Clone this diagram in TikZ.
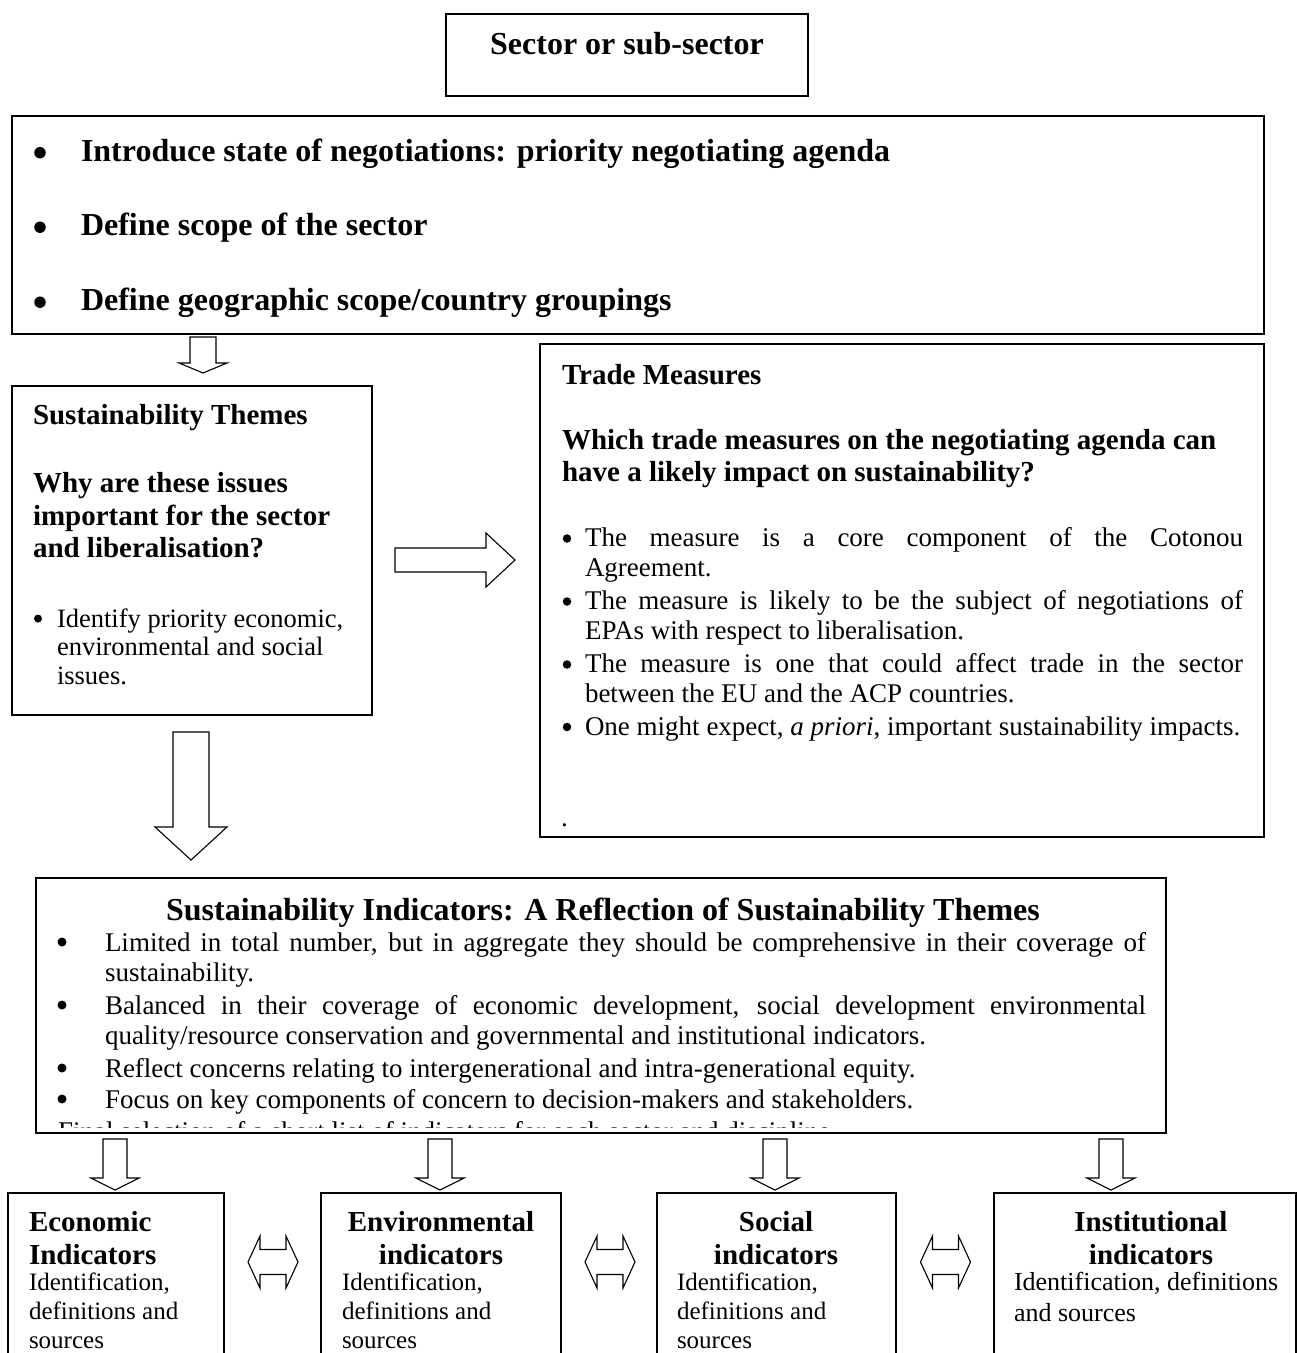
\documentclass[tikz,border=0pt]{standalone}
\usepackage{fontspec}
\setmainfont{Liberation Serif}
\newcommand\myfTop{\fontsize{32}{35}\selectfont\bfseries}
\newcommand\myfHead{\fontsize{29}{32.5}\selectfont\bfseries}
\newcommand\myfBody{\fontsize{27}{29.5}\selectfont}
\newcommand\myfST{\fontsize{26.5}{28.5}\selectfont}
\newcommand\myfSI{\fontsize{27}{30}\selectfont}
\newcommand\myfBot{\fontsize{25}{29}\selectfont}
\newcommand\myfBotI{\fontsize{26}{31}\selectfont}
\newcommand\myfBotB{\fontsize{29}{33}\selectfont\bfseries}
\tikzset{
  box/.style={draw, line width=1.3pt, inner sep=0pt, outer sep=0pt, rectangle, anchor=north west},
  blk/.style={draw, line width=1.1pt, fill=white, line join=miter},
  txt/.style={inner sep=0pt, outer sep=0pt, anchor=base west},
  ctxt/.style={inner sep=0pt, outer sep=0pt, anchor=base},
  dot/.style={circle, fill=black, inner sep=0pt, outer sep=0pt, minimum size=#1},
  dot/.default=9pt,
}
% down block arrow: cx, top, shaft bottom, tip, half shaft, half head
\newcommand\mydownarrow[6]{%
  \draw[blk] ({#1-#5},#2) -- ({#1+#5},#2) -- ({#1+#5},#3) -- ({#1+#6},#3) -- (#1,#4)
    -- ({#1-#6},#3) -- ({#1-#5},#3) -- cycle;}
% double block arrow: cx, cy
\newcommand\mydblarrow[2]{%
  \draw[blk] ({#1-25},#2) -- ({#1-13},{#2-26}) -- ({#1-13},{#2-12.5}) -- ({#1+13},{#2-12.5})
    -- ({#1+13},{#2-26}) -- ({#1+25},#2) -- ({#1+13},{#2+26}) -- ({#1+13},{#2+12.5})
    -- ({#1-13},{#2+12.5}) -- ({#1-13},{#2+26}) -- cycle;}
\begin{document}
\begin{tikzpicture}[x=1pt,y=-1pt]
\useasboundingbox (0,0) rectangle (1297,1353);
\clip (0,0) rectangle (1297,1353);

% ---------- Sector box
\node[box, minimum width=362pt, minimum height=82pt] (sector) at (446,14) {};
\node[ctxt, font=\myfTop] (sectortxt) at (627,54) {Sector or sub-sector};

% ---------- Scope box
\node[box, minimum width=1252pt, minimum height=218pt] (scope) at (12,116) {};
\node[dot=11.5pt] (sb1) at (40,152.7) {};
\node[txt, font=\myfTop] (st1) at (81,161) {Introduce state of negotiations: priority negotiating agenda};
\node[dot=11.5pt] (sb2) at (40,227.2) {};
\node[txt, font=\myfTop] (st2) at (81,235.5) {Define scope of the sector};
\node[dot=11.5pt] (sb3) at (40,302.2) {};
\node[txt, font=\myfTop] (st3) at (81,310.5) {Define geographic scope/country groupings};

% ---------- Sustainability themes box
\node[box, minimum width=360pt, minimum height=329pt] (themes) at (12,386) {};
\node[txt, font=\myfHead] (themesT) at (33,424) {Sustainability Themes};
\node[txt] (themesQ) at (33,492.5) {\parbox[t]{335pt}{\myfHead\raggedright Why are these issues\\important for the sector\\and liberalisation?}};
\node[dot=8pt] (themesB) at (38,618.6) {};
\node[txt] (themesI) at (57,627) {\parbox[t]{310pt}{\myfST\raggedright Identify priority economic,\\environmental and social\\issues.}};

% ---------- Trade measures box
\node[box, minimum width=724pt, minimum height=493pt] (trade) at (540,344) {};
\node[txt, font=\myfHead] (tradeT) at (562,384) {Trade Measures};
\node[txt] (tradeQ) at (562,449) {\parbox[t]{690pt}{\myfHead\raggedright Which trade measures on the negotiating agenda can\\have a likely impact on sustainability?}};
\node[dot=8.5pt] (tb1) at (567,538.5) {};
\node[txt] (ti1) at (585,546.5) {\parbox[t]{658pt}{\myfBody The measure is a core component of the Cotonou\linebreak Agreement.}};
\node[dot=8.5pt] (tb2) at (567,601.5) {};
\node[txt] (ti2) at (585,609.5) {\parbox[t]{658pt}{\myfBody The measure is likely to be the subject of negotiations of\linebreak EPAs with respect to liberalisation.}};
\node[dot=8.5pt] (tb3) at (567,664.5) {};
\node[txt] (ti3) at (585,672.5) {\parbox[t]{658pt}{\myfBody The measure is one that could affect trade in the sector\linebreak between the EU and the ACP countries.}};
\node[dot=8.5pt] (tb4) at (567,727) {};
\node[txt] (ti4) at (585,735) {\parbox[t]{658pt}{\myfBody One might expect, \textit{a priori}, important sustainability impacts.}};
\node[txt, font=\myfBody] (tdot) at (561,826) {.};

% ---------- Sustainability indicators box
\node[box, minimum width=1130pt, minimum height=255pt] (indic) at (36,878) {};
\node[ctxt, font=\myfTop] (indicT) at (603,920) {Sustainability Indicators: A Reflection of Sustainability Themes};
\node[dot=9pt] (ib1) at (62,942) {};
\node[txt] (ii1) at (105,951) {\parbox[t]{1041pt}{\myfSI Limited in total number, but in aggregate they should be comprehensive in their coverage of\linebreak sustainability.}};
\node[dot=9pt] (ib2) at (62,1005) {};
\node[txt] (ii2) at (105,1014) {\parbox[t]{1041pt}{\myfSI Balanced in their coverage of economic development, social development environmental\linebreak quality/resource conservation and governmental and institutional indicators.}};
\node[dot=9pt] (ib3) at (62,1068) {};
\node[txt, font=\myfSI] (ii3) at (105,1077) {Reflect concerns relating to intergenerational and intra-generational equity.};
\node[dot=9pt] (ib4) at (62,1099) {};
\node[txt, font=\myfSI] (ii4) at (105,1108) {Focus on key components of concern to decision-makers and stakeholders.};
\begin{scope}
  \clip (37,879) rectangle (1165,1127);
  \node[txt, font=\myfSI] (ii5) at (58,1140) {Final selection of a short list of indicators for each sector and discipline};
\end{scope}

% ---------- Block arrows
\mydownarrow{203}{337}{363}{373}{13}{24}
\draw[blk] (395,548) -- (486,548) -- (486,533) -- (515,560) -- (486,587) -- (486,572) -- (395,572) -- cycle;
\mydownarrow{191}{732}{827}{860}{18}{36}
\mydownarrow{115}{1139}{1178}{1190}{12}{24}
\mydownarrow{440}{1139}{1178}{1190}{12}{24}
\mydownarrow{775}{1139}{1178}{1190}{12}{24}
\mydownarrow{1111}{1139}{1178}{1190}{12}{24}

% ---------- Bottom boxes
\node[box, minimum width=216pt, minimum height=200pt] (econ) at (8,1193) {};
\node[box, minimum width=240pt, minimum height=200pt] (env) at (321,1193) {};
\node[box, minimum width=239pt, minimum height=200pt] (soc) at (657,1193) {};
\node[box, minimum width=302pt, minimum height=200pt] (inst) at (994,1193) {};

\mydblarrow{273}{1262}
\mydblarrow{610}{1262}
\mydblarrow{945.5}{1262}

\node[txt, font=\myfBotB] (econT1) at (29,1231) {Economic};
\node[txt, font=\myfBotB] (econT2) at (29,1264) {Indicators};
\node[txt, font=\myfBot] (econR1) at (29,1290) {Identification,};
\node[txt, font=\myfBot] (econR2) at (29,1319) {definitions and};
\node[txt, font=\myfBot] (econR3) at (29,1348) {sources};

\node[ctxt, font=\myfBotB] (envT1) at (441,1231) {Environmental};
\node[ctxt, font=\myfBotB] (envT2) at (441,1264) {indicators};
\node[txt, font=\myfBot] (envR1) at (342,1290) {Identification,};
\node[txt, font=\myfBot] (envR2) at (342,1319) {definitions and};
\node[txt, font=\myfBot] (envR3) at (342,1348) {sources};

\node[ctxt, font=\myfBotB] (socT1) at (776,1231) {Social};
\node[ctxt, font=\myfBotB] (socT2) at (776,1264) {indicators};
\node[txt, font=\myfBot] (socR1) at (677,1290) {Identification,};
\node[txt, font=\myfBot] (socR2) at (677,1319) {definitions and};
\node[txt, font=\myfBot] (socR3) at (677,1348) {sources};

\node[ctxt, font=\myfBotB] (instT1) at (1151,1231) {Institutional};
\node[ctxt, font=\myfBotB] (instT2) at (1151,1264) {indicators};
\node[txt, font=\myfBotI] (instR1) at (1014,1290) {Identification, definitions};
\node[txt, font=\myfBotI] (instR2) at (1014,1321) {and sources};
\end{tikzpicture}
\end{document}
